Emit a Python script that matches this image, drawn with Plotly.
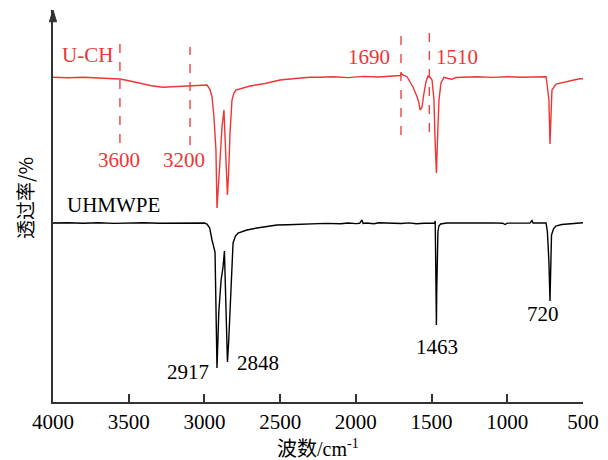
import plotly.graph_objects as go

# ---------------- data ----------------
# U-CH spectrum (offset, arbitrary transmittance units)
uch_wn = [4000, 3900, 3800, 3690, 3620, 3558, 3490, 3425, 3350, 3274, 3210, 3161, 3100, 3029, 2995, 2983,
          2965, 2950, 2937, 2930, 2924, 2917, 2910, 2897, 2884, 2875, 2871, 2860, 2848, 2840, 2831, 2818,
          2805, 2792, 2750, 2699, 2600, 2501, 2400, 2303, 2237, 2150, 2050, 1950, 1850, 1780, 1708, 1700,
          1690, 1662, 1640, 1623, 1596, 1585, 1576, 1563, 1550, 1537, 1524, 1510, 1497, 1484, 1477, 1468,
          1461, 1451, 1438, 1418, 1390, 1365, 1340, 1312, 1200, 1100, 1000, 900, 800, 744, 735, 725,
          718, 710, 705, 678, 640, 606, 560, 520, 500]
uch_T = [324.7, 324.2, 324.8, 324.3, 324.0, 323.0, 321.0, 318.7, 316.3, 314.7, 315.3, 316.0, 316.5, 317.3, 317.2, 317.0,
         313.0, 305.3, 285.0, 268.0, 252.0, 194.0, 215.0, 242.0, 275.0, 292.0, 292.0, 250.0, 207.0, 230.0, 269.0, 302.0,
         309.0, 312.0, 314.0, 316.0, 318.5, 322.0, 323.5, 324.7, 324.7, 325.2, 324.4, 325.6, 325.0, 325.8, 326.5, 328.7,
         327.0, 325.3, 320.0, 315.0, 305.3, 300.0, 292.0, 295.0, 309.0, 320.0, 326.0, 324.7, 322.0, 302.0, 262.0, 229.0,
         262.0, 302.0, 319.0, 324.7, 323.5, 322.7, 324.5, 324.7, 325.2, 324.6, 325.3, 324.8, 325.4, 325.3, 315.0, 302.0,
         258.0, 295.0, 312.0, 318.0, 319.5, 320.3, 322.0, 323.3, 323.3]

# UHMWPE spectrum
pe_wn = [4000, 3900, 3800, 3700, 3600, 3500, 3400, 3300, 3200, 3100, 3000, 2983, 2965, 2950, 2935, 2930,
         2917, 2905, 2890, 2877, 2868, 2860, 2848, 2840, 2831, 2818, 2811, 2795, 2778, 2720, 2653, 2600,
         2521, 2450, 2300, 2200, 2100, 2050, 2000, 1975, 1960, 1952, 1930, 1880, 1850, 1800, 1750, 1700,
         1650, 1600, 1550, 1500, 1480, 1476, 1472, 1468, 1466, 1462, 1458, 1452, 1440, 1400, 1300, 1200,
         1100, 1030, 1015, 1000, 900, 850, 837, 830, 760, 744, 735, 725, 718, 712, 708, 695,
         680, 640, 600, 550, 500]
pe_T = [179.0, 179.3, 178.7, 179.2, 178.6, 178.9, 179.3, 178.8, 179.1, 179.3, 179.0, 178.0, 174.0, 162.0, 152.0, 150.0,
        34.0, 90.0, 122.0, 135.0, 151.0, 100.0, 40.0, 60.0, 85.0, 135.0, 159.0, 166.0, 169.0, 172.0, 174.0, 175.5,
        177.0, 177.3, 178.0, 178.6, 178.2, 179.0, 178.4, 178.7, 182.0, 178.5, 179.0, 178.2, 179.2, 178.9, 179.3, 178.5,
        179.1, 178.3, 178.8, 178.5, 179.0, 181.0, 100.0, 77.0, 110.0, 150.0, 170.0, 176.0, 178.0, 179.0, 179.2, 179.0,
        179.1, 178.8, 177.5, 178.9, 179.0, 179.0, 181.5, 179.0, 179.0, 179.0, 170.0, 140.0, 101.0, 140.0, 167.0, 173.0,
        176.0, 177.5, 178.0, 179.0, 179.2]

x_ticks = [4000, 3500, 3000, 2500, 2000, 1500, 1000, 500]

# dashed marker lines on U-CH
mark_wn = [3558, 3095, 1702, 1515]
mark_y0 = [259, 257, 267, 270]
mark_y1 = [359, 355, 367, 369]
mark_lbl = ["3600", "3200", "1690", "1510"]
mark_lx = [3564, 3135, 1913, 1332]
mark_ly = [242, 242, 345, 345]

# peak labels on UHMWPE
peak_lbl = ["2917", "2848", "1463", "720"]
peak_lx = [3108, 2646, 1464, 764]
peak_ly = [30, 39, 55, 88]

RED = "#EE3535"
SERIF = "Liberation Serif, Times New Roman, serif"

fig = go.Figure()
fig.add_trace(go.Scatter(x=uch_wn, y=uch_T, mode="lines", line=dict(color=RED, width=1.4),
                         showlegend=False, hoverinfo="skip"))
fig.add_trace(go.Scatter(x=pe_wn, y=pe_T, mode="lines", line=dict(color="black", width=1.4),
                         showlegend=False, hoverinfo="skip"))

for wn, a, b in zip(mark_wn, mark_y0, mark_y1):
    fig.add_shape(type="line", x0=wn, x1=wn, y0=a, y1=b, xref="x", yref="y",
                  line=dict(color=RED, width=1.3, dash="dash"))

ann = []
for t, x, y in zip(mark_lbl, mark_lx, mark_ly):
    ann.append(dict(text=t, x=x, y=y, xref="x", yref="y", showarrow=False,
                    font=dict(family=SERIF, size=21, color=RED)))
for t, x, y in zip(peak_lbl, peak_lx, peak_ly):
    ann.append(dict(text=t, x=x, y=y, xref="x", yref="y", showarrow=False,
                    font=dict(family=SERIF, size=21, color="black")))
ann.append(dict(text="U-CH", x=3954, y=347, xref="x", yref="y", xanchor="left", showarrow=False,
                font=dict(family=SERIF, size=21, color=RED)))
ann.append(dict(text="UHMWPE", x=3921, y=197, xref="x", yref="y", xanchor="left", showarrow=False,
                font=dict(family=SERIF, size=21, color="black")))
# axis titles
ann.append(dict(text="波数/cm<sup>-1</sup>", x=0.5, y=-0.118, xref="paper", yref="paper",
                xanchor="center", yanchor="middle", showarrow=False,
                font=dict(family="Liberation Serif, Noto Sans CJK SC", size=20, color="black")))
ann.append(dict(text="透过率/%", x=-0.055, y=0.52, xref="paper", yref="paper", textangle=-90,
                xanchor="center", yanchor="middle", showarrow=False,
                font=dict(family="Noto Sans CJK SC, Liberation Serif", size=19, color="black")))

# arrow head on y axis
fig.add_shape(type="path", xref="paper", yref="paper",
              path="M -0.0068,0.970 L 0,1.0 L 0.0068,0.970 Z",
              fillcolor="#333333", line=dict(color="#333333", width=1))

# page body has an 8px margin: size the figure so the plot area lands at x 53-583, y 10-402
fig.update_layout(
    width=600, height=452,
    margin=dict(l=45, r=25, t=2, b=58),
    paper_bgcolor="white", plot_bgcolor="white",
    annotations=ann,
    xaxis=dict(range=[4000, 500], tickvals=x_ticks, ticktext=[str(v) for v in x_ticks],
               ticks="inside", ticklen=8, tickwidth=1.5, tickcolor="#333333",
               showline=True, linecolor="#333333", linewidth=1.5,
               showgrid=False, zeroline=False, ticklabelstandoff=0,
               tickfont=dict(family=SERIF, size=21, color="black")),
    yaxis=dict(range=[0, 392], tickvals=[179], showticklabels=False,
               ticks="inside", ticklen=6, tickwidth=1.5, tickcolor="#333333",
               showline=True, linecolor="#333333", linewidth=1.5,
               showgrid=False, zeroline=False),
)

fig.write_html("out.html")
